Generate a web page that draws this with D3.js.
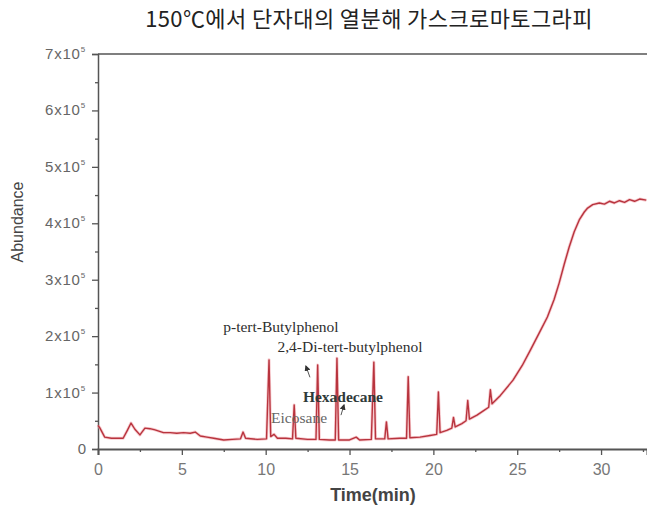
<!DOCTYPE html>
<html>
<head>
<meta charset="utf-8">
<script src="https://cdn.jsdelivr.net/npm/d3@7"></script>
<style>
  html, body { margin: 0; padding: 0; background: #fff; }
  svg { display: block; }
</style>
</head>
<body>
<svg id="chart" width="647" height="506"></svg>
<script>
// ---- data (time in min, abundance in counts) ----
const titleText = "150℃에서 단자대의 열분해 가스크로마토그라피";
const xLabel = "Time(min)";
const yLabel = "Abundance";
const xTicks = [0, 5, 10, 15, 20, 25, 30];
const yTicks = [0, 100000, 200000, 300000, 400000, 500000, 600000, 700000];
const yTickLabels = ["0", "1x10", "2x10", "3x10", "4x10", "5x10", "6x10", "7x10"];
const yTickExp = ["", "5", "5", "5", "5", "5", "5", "5"];

const times = [
  0.00, 0.10, 0.40, 0.80, 1.50, 1.75, 1.97, 2.20, 2.50, 2.80, 3.10, 3.40, 3.90, 4.30, 4.70,
  5.10, 5.50, 5.80, 6.10, 6.50, 6.90, 7.50, 8.00, 8.50, 8.65, 8.80, 9.50, 10.05, 10.20, 10.30,
  10.50, 10.70, 11.20, 11.60, 11.70, 11.80, 12.50, 13.00, 13.10, 13.20, 13.80, 14.15, 14.25, 14.35,
  15.00, 15.40, 15.60, 16.30, 16.45, 16.55, 17.10, 17.20, 17.30, 18.00, 18.40, 18.50, 18.60,
  19.20, 19.80, 20.20, 20.30, 20.40, 20.80, 21.10, 21.20, 21.30, 21.70, 21.95, 22.05, 22.15,
  22.60, 23.00, 23.30, 23.40, 23.50, 24.00, 24.75, 25.30, 25.80, 26.30, 26.80, 27.20, 27.50,
  27.80, 28.10, 28.40, 28.70, 29.00, 29.20, 29.50, 29.90, 30.20, 30.50, 30.80, 31.10, 31.40,
  31.70, 32.00, 32.30, 32.70
];
const abundance = [
  42000, 38000, 21000, 19000, 19000, 33000, 46000, 35000, 25000, 37000, 36000, 34000, 29000, 29000, 28000,
  29000, 28000, 30000, 23000, 21000, 19000, 16000, 17000, 18000, 30000, 19000, 17000, 18000, 158000, 22000,
  26000, 19000, 19000, 18000, 78000, 19000, 17000, 17000, 149000, 17000, 16000, 16000, 161000, 16000,
  16000, 21000, 16000, 17000, 154000, 18000, 18000, 48000, 18000, 19000, 19000, 128000, 20000,
  21000, 24000, 26000, 101000, 29000, 33000, 37000, 56000, 39000, 45000, 50000, 86000, 53000,
  60000, 68000, 74000, 105000, 80000, 95000, 122000, 148000, 176000, 205000, 234000, 265000, 294000,
  327000, 358000, 385000, 406000, 420000, 427000, 433000, 436000, 434000, 439000, 436000, 440000, 437000,
  442000, 439000, 443000, 441000
];

// annotation labels placed in data coordinates (time, abundance)
const annotations = [
  { text: "p-tert-Butylphenol", t: 10.91, v: 207000, bold: false, color: "#2e2e2e" },
  { text: "2,4-Di-tert-butylphenol", t: 15.03, v: 172000, bold: false, color: "#2e2e2e" },
  { text: "Hexadecane", t: 14.61, v: 83000, bold: true, color: "#2f3a3a" },
  { text: "Eicosane", t: 11.99, v: 46000, bold: false, color: "#666" }
];
const arrows = [
  { t0: 12.64, v0: 127000, t1: 12.40, v1: 147000 },
  { t0: 14.49, v0: 60000, t1: 14.67, v1: 78000 }
];

// ---- layout ----
const svg = d3.select("#chart");
const x = d3.scaleLinear().domain([0, 32.74]).range([98, 647]);
const y = d3.scaleLinear().domain([0, 700000]).range([449, 54]);
const axisColor = "#555";

// title
svg.append("text")
  .attr("x", 369).attr("y", 27)
  .attr("text-anchor", "middle")
  .attr("font-family", "'Noto Sans CJK KR', sans-serif")
  .attr("font-size", 22)
  .attr("letter-spacing", 0.4)
  .attr("fill", "#222")
  .text(titleText);

// top frame line
svg.append("line")
  .attr("x1", x(0)).attr("x2", 647)
  .attr("y1", y(700000)).attr("y2", y(700000))
  .attr("stroke", axisColor).attr("stroke-width", 1.5);

// y axis
const yAxis = d3.axisLeft(y).tickValues(yTicks).tickSize(6).tickFormat("");
const gy = svg.append("g").attr("transform", `translate(${x(0)},0)`).call(yAxis);
gy.select(".domain").attr("stroke", axisColor).attr("stroke-width", 1.5);
gy.selectAll(".tick line").attr("stroke", axisColor).attr("stroke-width", 1.3);
const yMinor = d3.axisLeft(y).tickValues(d3.range(50000, 700000, 100000)).tickSize(3).tickFormat("");
const gym = svg.append("g").attr("transform", `translate(${x(0)},0)`).call(yMinor);
gym.select(".domain").remove();
gym.selectAll(".tick line").attr("stroke", axisColor).attr("stroke-width", 1.3);

// y tick labels with superscripts
yTicks.forEach((v, i) => {
  const t = svg.append("text")
    .attr("x", 86).attr("y", y(v) + 5)
    .attr("text-anchor", "end")
    .attr("font-family", "'Liberation Sans', Arial, sans-serif")
    .attr("font-size", 15)
    .attr("letter-spacing", i === 0 ? 0 : 0.8)
    .attr("fill", "#666");
  t.append("tspan").text(yTickLabels[i]);
  if (yTickExp[i]) {
    t.append("tspan").attr("dy", -7).attr("font-size", 8).text(yTickExp[i]);
  }
});

// x axis
const xAxis = d3.axisBottom(x).tickValues(xTicks).tickSize(6).tickFormat(d3.format("d"));
const gx = svg.append("g").attr("transform", `translate(0,${y(0)})`).call(xAxis);
gx.select(".domain").attr("stroke", axisColor).attr("stroke-width", 2);
gx.selectAll(".tick line").attr("stroke", axisColor).attr("stroke-width", 1.3);
gx.selectAll(".tick text")
  .attr("font-family", "'Liberation Sans', Arial, sans-serif")
  .attr("font-size", 16).attr("fill", "#777").attr("dy", "1.05em");
const xMinor = d3.axisBottom(x).tickValues([2.5, 7.5, 12.5, 17.5, 22.5, 27.5, 32.5]).tickSize(3).tickFormat("");
const gxm = svg.append("g").attr("transform", `translate(0,${y(0)})`).call(xMinor);
gxm.select(".domain").remove();
gxm.selectAll(".tick line").attr("stroke", axisColor).attr("stroke-width", 1.3);

// axis labels
svg.append("text")
  .attr("transform", `translate(23,222) rotate(-90)`)
  .attr("text-anchor", "middle")
  .attr("font-family", "'Liberation Sans', Arial, sans-serif")
  .attr("font-size", 16).attr("fill", "#444")
  .text(yLabel);
svg.append("text")
  .attr("x", 373).attr("y", 501)
  .attr("text-anchor", "middle")
  .attr("font-family", "'Liberation Sans', Arial, sans-serif")
  .attr("font-size", 18).attr("font-weight", "bold").attr("fill", "#444")
  .text(xLabel);

// chromatogram trace
const series = times.map((t, i) => ({ t, v: abundance[i] }));
const line = d3.line().x(d => x(d.t)).y(d => y(d.v));
svg.append("path")
  .datum(series)
  .attr("d", line)
  .attr("fill", "none")
  .attr("stroke", "#f2a7ad")
  .attr("stroke-width", 3)
  .attr("stroke-linejoin", "round")
  .attr("opacity", 0.6);
svg.append("path")
  .datum(series)
  .attr("d", line)
  .attr("fill", "none")
  .attr("stroke", "#b8343e")
  .attr("stroke-width", 1.4)
  .attr("stroke-linejoin", "round");

// annotations
annotations.forEach(a => {
  svg.append("text")
    .attr("x", x(a.t)).attr("y", y(a.v))
    .attr("text-anchor", "middle")
    .attr("font-family", "'Liberation Serif', 'Times New Roman', serif")
    .attr("font-size", 15.5)
    .attr("font-weight", a.bold ? "bold" : "normal")
    .attr("fill", a.color)
    .text(a.text);
});
svg.append("defs").append("marker")
  .attr("id", "ah").attr("viewBox", "0 0 10 10")
  .attr("refX", 8).attr("refY", 5)
  .attr("markerWidth", 6).attr("markerHeight", 6)
  .attr("orient", "auto-start-reverse")
  .append("path").attr("d", "M0,0 L10,5 L0,10 z").attr("fill", "#333");
arrows.forEach(a => {
  svg.append("line")
    .attr("x1", x(a.t0)).attr("y1", y(a.v0))
    .attr("x2", x(a.t1)).attr("y2", y(a.v1))
    .attr("stroke", "#555").attr("stroke-width", 1)
    .attr("marker-end", "url(#ah)");
});
</script>
</body>
</html>
